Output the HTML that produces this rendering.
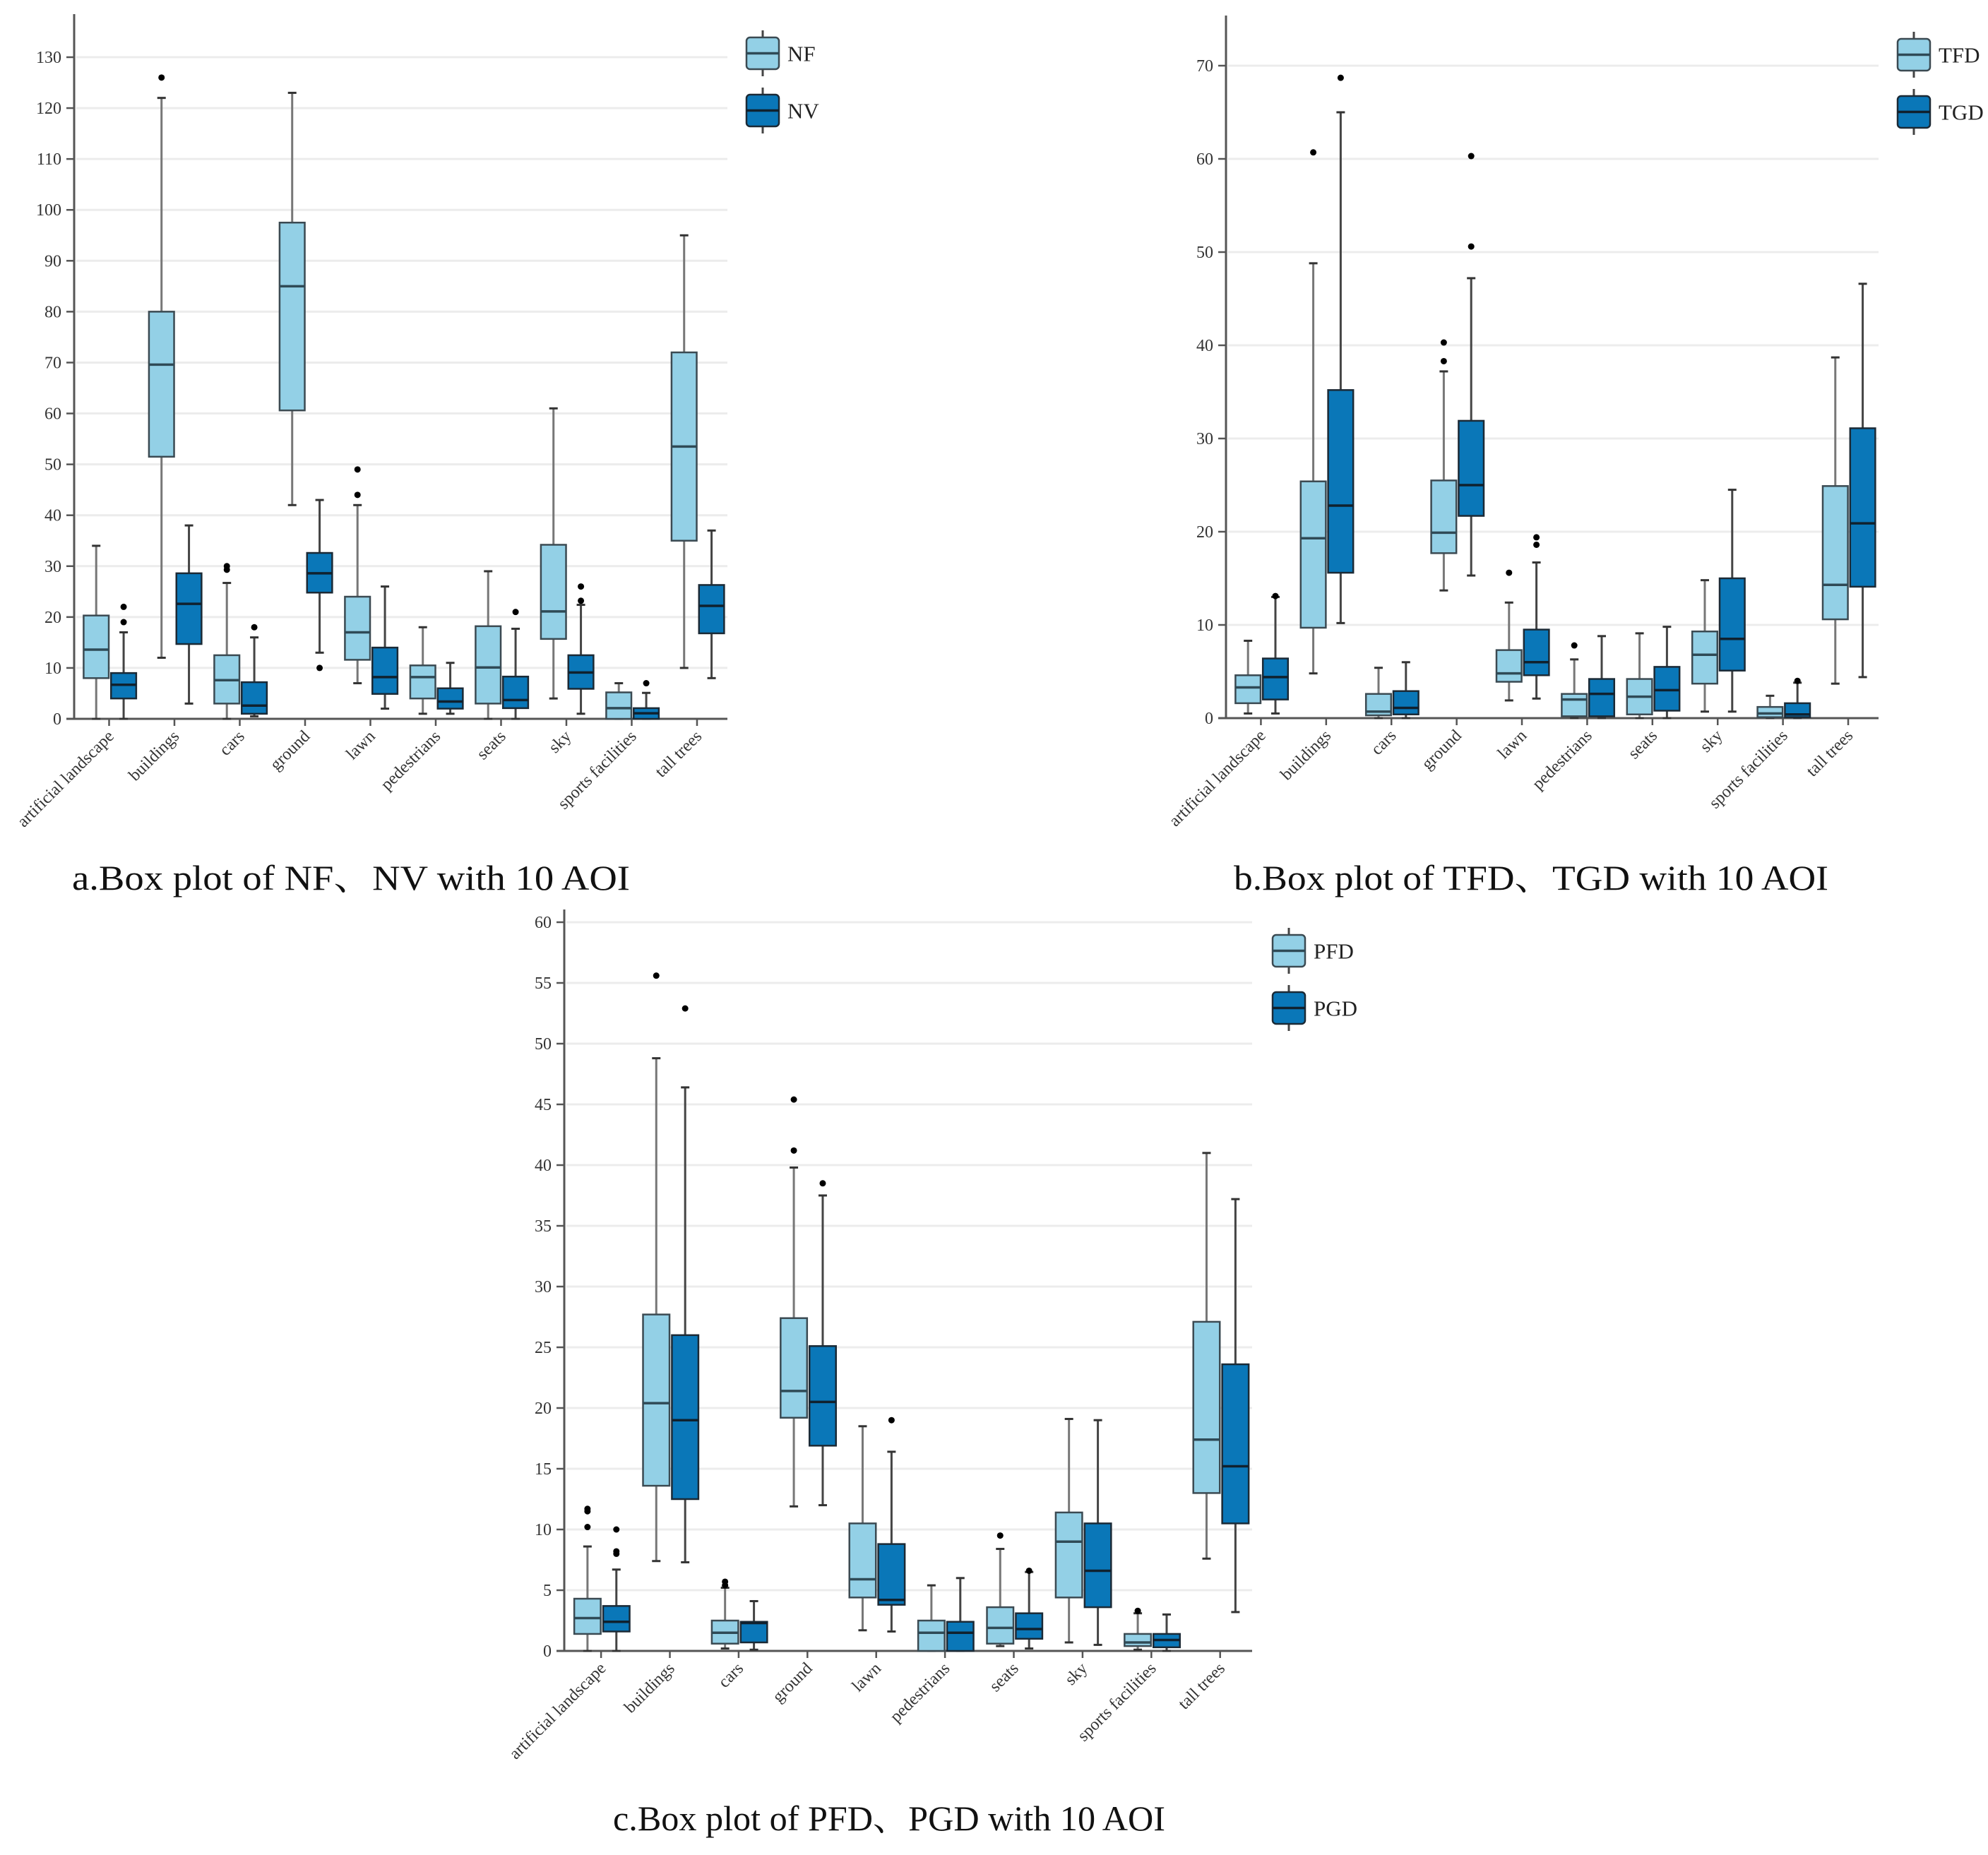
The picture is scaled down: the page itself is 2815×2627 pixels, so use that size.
<!DOCTYPE html>
<html><head><meta charset="utf-8">
<style>
html,body{margin:0;padding:0;background:#fff;}
svg{display:block;font-family:"Liberation Serif","Noto Serif CJK SC",serif;}
</style></head>
<body>
<svg id="fig" width="2815" height="2627" viewBox="0 0 2815 2627" xmlns="http://www.w3.org/2000/svg">
<rect width="2815" height="2627" fill="#fff"/>
<g id="pa"></g>
<g id="pb"></g>
<g id="pc"></g>
<text x="102" y="1260" font-size="50" textLength="790" lengthAdjust="spacingAndGlyphs" fill="#111">a.Box plot of NF、NV with 10 AOI</text>
<text x="1747" y="1260" font-size="50" textLength="842" lengthAdjust="spacingAndGlyphs" fill="#111">b.Box plot of TFD、TGD with 10 AOI</text>
<text x="868" y="2592" font-size="50" textLength="782" lengthAdjust="spacingAndGlyphs" fill="#111">c.Box plot of PFD、PGD with 10 AOI</text>
</svg>
<script>
const categories = ["artificial landscape","buildings","cars","ground","lawn","pedestrians","seats","sky","sports facilities","tall trees"];

// Panel a ticks and data
const aTicks = [0,10,20,30,40,50,60,70,80,90,100,110,120,130];
const aNF_lo  = [0,12,0,42,7,1,0,4,0,10];
const aNF_q1  = [8,51.5,3,60.6,11.6,4,3,15.7,0,35];
const aNF_med = [13.6,69.6,7.6,85,17,8.2,10.1,21.1,2.1,53.5];
const aNF_q3  = [20.3,80,12.5,97.5,24,10.5,18.2,34.2,5.2,72];
const aNF_hi  = [34,122,26.7,123,42,18,29,61,7,95];
const aNF_out = [[],[126],[29.3,30],[],[44,49],[],[],[],[],[]];
const aNV_lo  = [0,3,0.5,13,2,1,0,1,0,8];
const aNV_q1  = [4,14.7,1,24.8,4.9,2,2.1,5.9,0,16.8];
const aNV_med = [6.7,22.6,2.6,28.6,8.2,3.4,3.7,9.1,1.1,22.2];
const aNV_q3  = [9,28.6,7.2,32.6,14,6,8.3,12.5,2.1,26.3];
const aNV_hi  = [17,38,16,43,26,11,17.7,22.4,5.1,37];
const aNV_out = [[19,22],[],[18],[10],[],[],[21],[23.2,26],[7],[]];

// Panel b
const bTicks = [0,10,20,30,40,50,60,70];
const bTFD_lo  = [0.5,4.8,0,13.7,1.9,0,0,0.7,0,3.7];
const bTFD_q1  = [1.6,9.7,0.3,17.7,3.9,0.2,0.4,3.7,0.1,10.6];
const bTFD_med = [3.3,19.3,0.7,19.9,4.8,2,2.3,6.8,0.5,14.3];
const bTFD_q3  = [4.6,25.4,2.6,25.5,7.3,2.6,4.2,9.3,1.2,24.9];
const bTFD_hi  = [8.3,48.8,5.4,37.2,12.4,6.3,9.1,14.8,2.4,38.7];
const bTFD_out = [[],[60.7],[],[38.3,40.3],[15.6],[7.8],[],[],[],[]];
const bTGD_lo  = [0.5,10.2,0,15.3,2.1,0,0,0.7,0,4.4];
const bTGD_q1  = [2,15.6,0.4,21.7,4.6,0.2,0.8,5.1,0.1,14.1];
const bTGD_med = [4.4,22.8,1.1,25,6,2.6,3,8.5,0.4,20.9];
const bTGD_q3  = [6.4,35.2,2.9,31.9,9.5,4.2,5.5,15,1.6,31.1];
const bTGD_hi  = [13,65,6,47.2,16.7,8.8,9.8,24.5,3.8,46.6];
const bTGD_out = [[13.1],[68.7],[],[50.6,60.3],[18.6,19.4],[],[],[],[4],[]];

// Panel c
const cTicks = [0,5,10,15,20,25,30,35,40,45,50,55,60];
const cPFD_lo  = [0,7.4,0.2,11.9,1.7,0,0.4,0.7,0.1,7.6];
const cPFD_q1  = [1.4,13.6,0.6,19.2,4.4,0,0.6,4.4,0.4,13];
const cPFD_med = [2.7,20.4,1.5,21.4,5.9,1.5,1.9,9,0.7,17.4];
const cPFD_q3  = [4.3,27.7,2.5,27.4,10.5,2.5,3.6,11.4,1.4,27.1];
const cPFD_hi  = [8.6,48.8,5.2,39.8,18.5,5.4,8.4,19.1,3.1,41];
const cPFD_out = [[10.2,11.5,11.7],[55.6],[5.4,5.7],[41.2,45.4],[],[],[9.5],[],[3.3],[]];
const cPGD_lo  = [0,7.3,0.1,12,1.6,0,0.2,0.5,0,3.2];
const cPGD_q1  = [1.6,12.5,0.7,16.9,3.8,0,1,3.6,0.3,10.5];
const cPGD_med = [2.4,19,2.3,20.5,4.2,1.5,1.8,6.6,0.9,15.2];
const cPGD_q3  = [3.7,26,2.4,25.1,8.8,2.4,3.1,10.5,1.4,23.6];
const cPGD_hi  = [6.7,46.4,4.1,37.5,16.4,6,6.5,19,3,37.2];
const cPGD_out = [[8,8.2,10],[52.9],[],[38.5],[19],[],[6.6],[],[],[]];

const NS = "http://www.w3.org/2000/svg";
const LIGHT = "#93d0e6", DARK = "#0a77b8";

function mk(parent, tag, attrs) {
  const e = document.createElementNS(NS, tag);
  for (const k in attrs) e.setAttribute(k, attrs[k]);
  parent.appendChild(e);
  return e;
}

function drawPanel(g, cfg) {
  const yScale = v => cfg.y0 - (v - cfg.vmin) * (cfg.y0 - cfg.yMaxPix) / (cfg.vmax - cfg.vmin);
  const band = (cfg.x1 - cfg.x0) / categories.length;
  const xBand = i => cfg.x0 + i * band;

  cfg.ticks.forEach(t => {
    const y = yScale(t);
    if (t !== 0) {
      const gl = mk(g, "line", {x1: cfg.x0 + 3, x2: cfg.x1, y1: y, y2: y, stroke: "#ececec", "stroke-width": 3});
      
      
    }
    const tk = mk(g, "line", {x1: cfg.x0 - 11, x2: cfg.x0, y1: y, y2: y, stroke: "#555", "stroke-width": 2.5});
    
    
    const lb = mk(g, "text", {x: cfg.x0 - 18, y: y + 8, "font-size": 24, "text-anchor": "end", fill: "#333"});
    lb.textContent = t;
    
    
  });

  const ya = mk(g, "line", {x1: cfg.x0, x2: cfg.x0, y1: cfg.yTop, y2: cfg.y0 + 1, stroke: "#555", "stroke-width": 3});
  
  
  const xa = mk(g, "line", {x1: cfg.x0 - 11, x2: cfg.x1, y1: cfg.y0, y2: cfg.y0, stroke: "#555", "stroke-width": 3});
  
  

  categories.forEach((c, i) => {
    const tx = xBand(i) + band * 0.535;
    const tk = mk(g, "line", {x1: tx, x2: tx, y1: cfg.y0, y2: cfg.y0 + 10, stroke: "#555", "stroke-width": 2.5});
    
    
    const lb = mk(g, "text", {x: 0, y: 0, "font-size": 24, "text-anchor": "end", fill: "#333",
      transform: `translate(${tx + 8},${cfg.y0 + 26}) rotate(-45)`});
    lb.textContent = c;
    
    
  });

  cfg.series.forEach((s, si) => {
    const off = si === 0 ? 0.145 : 0.565;
    const w = band * 0.385;
    categories.forEach((c, i) => {
      const bx = xBand(i) + band * off;
      const cx = bx + w / 2;
      const wc = s.dark ? "#444" : "#777";
      const wh1 = mk(g, "line", {x1: cx, x2: cx, y1: yScale(s.hi[i]), y2: yScale(s.q3[i]), stroke: wc, "stroke-width": 3});
      
      
      const wh2 = mk(g, "line", {x1: cx, x2: cx, y1: yScale(s.q1[i]), y2: yScale(s.lo[i]), stroke: wc, "stroke-width": 3});
      
      
      const cap1 = mk(g, "line", {x1: cx - 6, x2: cx + 6, y1: yScale(s.hi[i]), y2: yScale(s.hi[i]), stroke: "#333", "stroke-width": 3});
      
      
      const cap2 = mk(g, "line", {x1: cx - 6, x2: cx + 6, y1: yScale(s.lo[i]), y2: yScale(s.lo[i]), stroke: "#333", "stroke-width": 3});
      
      
      const yq3 = yScale(s.q3[i]), yq1 = yScale(s.q1[i]);
      const box = mk(g, "rect", {x: bx, y: yq3, width: w, height: Math.max(yq1 - yq3, 1), fill: s.dark ? DARK : LIGHT,
        stroke: s.dark ? "#1b2a36" : "#3b4a52", "stroke-width": 2.5});
      
      
      const md = mk(g, "line", {x1: bx, x2: bx + w, y1: yScale(s.med[i]), y2: yScale(s.med[i]),
        stroke: s.dark ? "#10212e" : "#2f4a56", "stroke-width": 3.5});
      
      
      s.out[i].forEach(v => {
        const o = mk(g, "circle", {cx: cx, cy: yScale(v), r: 4.5, fill: "#000"});
        
        
      });
    });

    const lx = cfg.legX, ly = cfg.legY + si * 81, lw = 46, lh = 45;
    const lg = mk(g, "g", {});
    
    
    const lwl = mk(lg, "line", {x1: lx + lw / 2, x2: lx + lw / 2, y1: ly - 10, y2: ly + lh + 10, stroke: "#444", "stroke-width": 3});
    
    
    const lr = mk(lg, "rect", {x: lx, y: ly, width: lw, height: lh, rx: 5, fill: s.dark ? DARK : LIGHT,
      stroke: s.dark ? "#1b2a36" : "#3b4a52", "stroke-width": 2.5});
    
    
    const lm = mk(lg, "line", {x1: lx, x2: lx + lw, y1: ly + lh / 2, y2: ly + lh / 2, stroke: s.dark ? "#10212e" : "#2f4a56", "stroke-width": 3.5});
    
    
    const lt = mk(lg, "text", {x: lx + lw + 12, y: ly + lh / 2 + 11, "font-size": 31, fill: "#222"});
    lt.textContent = s.name;
    
    
  });
}

drawPanel(document.getElementById("pa"), {
  x0: 105, x1: 1030, y0: 1018, yMaxPix: 81, vmin: 0, vmax: 130, yTop: 20, ticks: aTicks,
  legX: 1057, legY: 53,
  series: [
    {name: "NF", dark: false, lo: aNF_lo, q1: aNF_q1, med: aNF_med, q3: aNF_q3, hi: aNF_hi, out: aNF_out},
    {name: "NV", dark: true, lo: aNV_lo, q1: aNV_q1, med: aNV_med, q3: aNV_q3, hi: aNV_hi, out: aNV_out}
  ]
});
drawPanel(document.getElementById("pb"), {
  x0: 1736, x1: 2660, y0: 1017, yMaxPix: 93, vmin: 0, vmax: 70, yTop: 22, ticks: bTicks,
  legX: 2687, legY: 55,
  series: [
    {name: "TFD", dark: false, lo: bTFD_lo, q1: bTFD_q1, med: bTFD_med, q3: bTFD_q3, hi: bTFD_hi, out: bTFD_out},
    {name: "TGD", dark: true, lo: bTGD_lo, q1: bTGD_q1, med: bTGD_med, q3: bTGD_q3, hi: bTGD_hi, out: bTGD_out}
  ]
});
drawPanel(document.getElementById("pc"), {
  x0: 799, x1: 1773, y0: 2338, yMaxPix: 1306, vmin: 0, vmax: 60, yTop: 1288, ticks: cTicks,
  legX: 1802, legY: 1324,
  series: [
    {name: "PFD", dark: false, lo: cPFD_lo, q1: cPFD_q1, med: cPFD_med, q3: cPFD_q3, hi: cPFD_hi, out: cPFD_out},
    {name: "PGD", dark: true, lo: cPGD_lo, q1: cPGD_q1, med: cPGD_med, q3: cPGD_q3, hi: cPGD_hi, out: cPGD_out}
  ]
});
</script>
</body></html>
